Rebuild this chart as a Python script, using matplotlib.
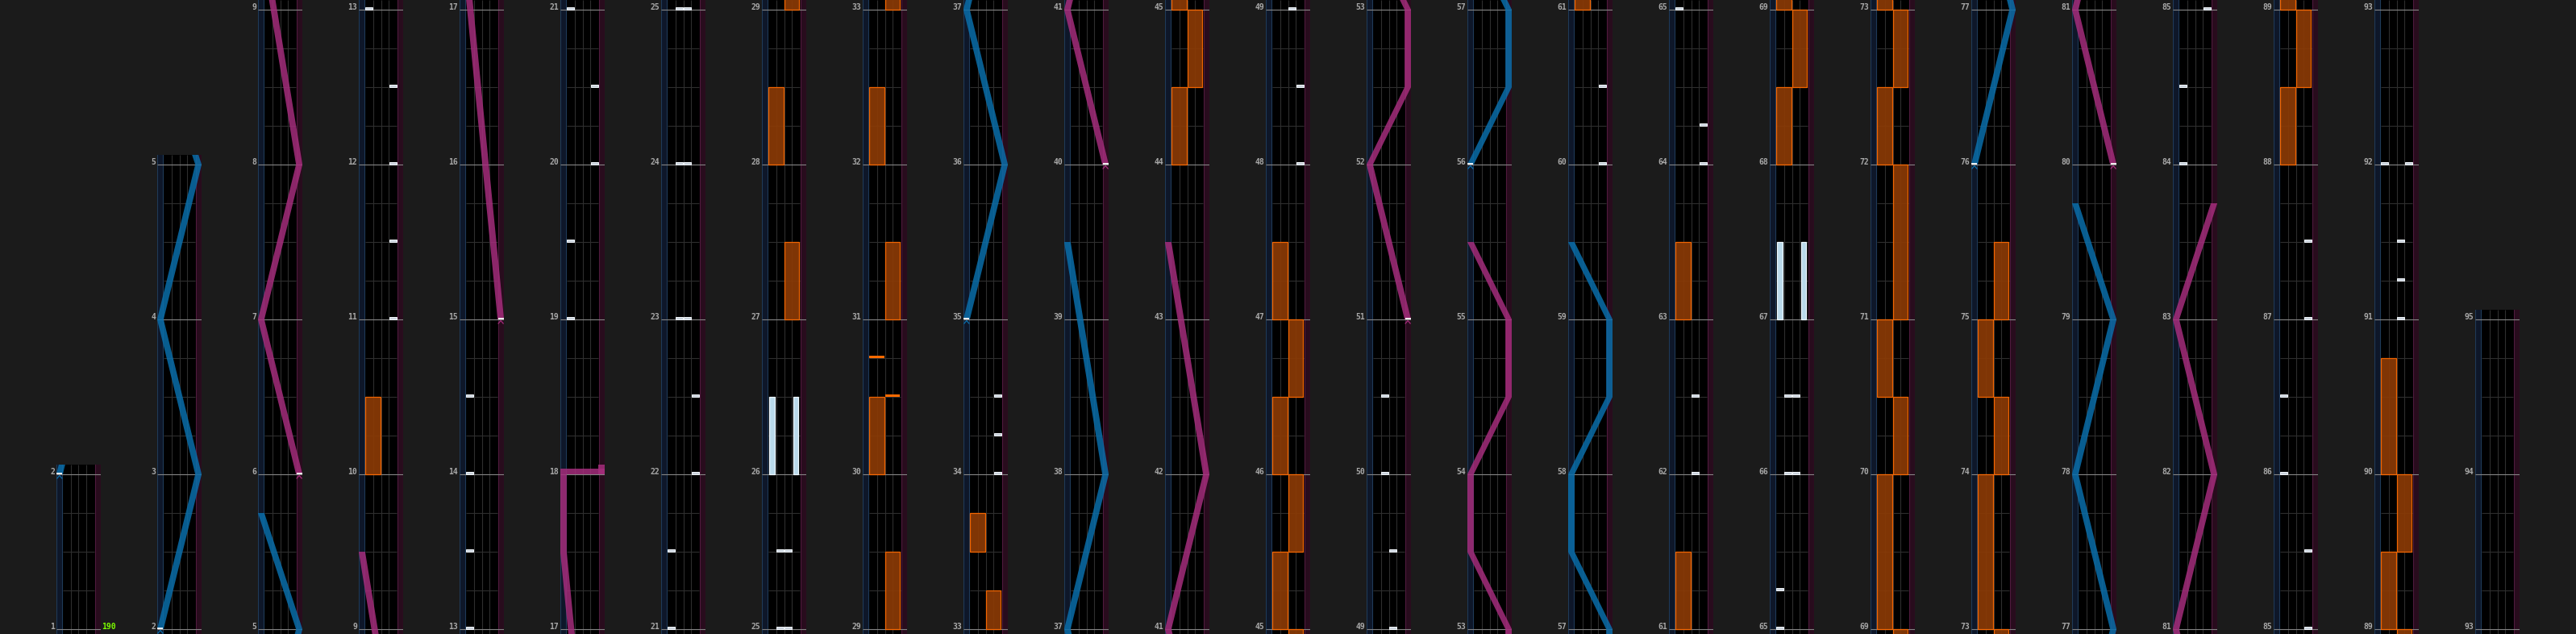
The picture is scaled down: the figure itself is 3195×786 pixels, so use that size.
#!/usr/bin/env python3
"""
Chart strip of a 4-lane + 2-laser rhythm chart (95 measures, 25 columns).
192 px per measure, columns bottom-aligned.
Out : out.png (3195 x 786)
"""
import matplotlib
matplotlib.use("Agg")
import matplotlib.pyplot as plt
from matplotlib.patches import Rectangle, Polygon

# ---------------- chart data ----------------
# columns: first and last measure shown
COL_FIRST = [1, 2, 5, 9, 13, 17, 21, 25, 29, 33, 37, 41, 45,
             49, 53, 57, 61, 65, 69, 73, 77, 81, 85, 89, 93]
COL_LAST = [2, 5, 9, 13, 17, 21, 25, 29, 33, 37, 41, 45, 49,
            53, 57, 61, 65, 69, 73, 77, 81, 85, 89, 93, 95]
BPM = "190"

# (measure, lane 1-4)
BT_CHIPS = [
    (11, 4), (11.5, 4), (12, 4), (12.5, 4), (13, 1),
    (13.5, 1), (14, 1), (14.5, 1),
    (19, 1), (19.5, 1), (20, 4), (20.5, 4), (21, 1),
    (21.5, 1), (22, 4), (22.5, 4), (23, 2), (23, 3), (24, 2), (24, 3),
    (25, 2), (25, 3), (25.5, 2), (25.5, 3),
    (34, 4), (34.25, 4), (34.5, 4),
    (48, 4), (48.5, 4), (49, 3), (49.5, 3), (50, 2), (50.5, 2),
    (60, 4), (60.5, 4),
    (62, 3), (62.5, 3), (64, 4), (64.25, 4), (65, 1),
    (65.25, 1), (66, 2), (66, 3), (66.5, 2), (66.5, 3),
    (84, 1), (84.5, 1), (85, 4), (85.5, 4), (86, 1), (86.5, 1),
    (87, 4), (87.5, 4),
    (91, 3), (91.25, 3), (91.5, 3), (92, 1), (92, 4),
]
# (start, end, lane)
BT_HOLDS = [(26, 26.5, 1), (26, 26.5, 4), (67, 67.5, 1), (67, 67.5, 4)]

# (start, end, side)
FX_HOLDS = [
    (10, 10.5, "L"),
    (27, 27.5, "R"), (28, 28.5, "L"), (29, 29.5, "R"), (30, 30.5, "L"),
    (31, 31.5, "R"), (32, 32.5, "L"), (33, 33.25, "R"), (33.5, 33.75, "L"),
    (44, 44.5, "L"), (44.5, 45, "R"), (45, 45.5, "L"), (45.5, 46, "R"),
    (46, 46.5, "L"), (46.5, 47, "R"), (47, 47.5, "L"),
    (61, 61.5, "L"), (63, 63.5, "L"),
    (68, 68.5, "L"), (68.5, 69, "R"), (69, 70, "L"), (70, 70.5, "R"),
    (70.5, 71, "L"), (71, 72, "R"), (72, 72.5, "L"), (72.5, 73, "R"),
    (73, 74, "L"), (74, 74.5, "R"), (74.5, 75, "L"), (75, 75.5, "R"),
    (88, 88.5, "L"), (88.5, 89, "R"), (89, 89.5, "L"), (89.5, 90, "R"),
    (90, 90.75, "L"),
]
FX_CHIPS = [(30.5, "R"), (30.75, "L")]

# lasers: (measure, position 0..1); equal measures = slam
LASER_L = [
    [(2, 0), (3, 1), (4, 0), (5, 1), (5.75, 0)],
    [(35, 0), (36, 1), (37, 0), (38, 1), (39.5, 0)],
    [(56, 0), (56.5, 1), (57, 1), (57.5, 0), (58, 0), (58.5, 1),
     (59, 1), (59.5, 0)],
    [(76, 0), (77, 1), (78, 0), (79, 1), (79.75, 0)],
]
LASER_R = [
    [(6, 1), (7, 0), (8, 1), (9.5, 0)],
    [(15, 1), (17.5, 0), (18, 0), (18, 1), (18.0625, 1)],
    [(40, 1), (41, 0), (42, 1), (43.5, 0)],
    [(51, 1), (52, 0), (52.5, 1), (53, 1), (53.5, 0), (54, 0),
     (54.5, 1), (55, 1), (55.5, 0)],
    [(80, 1), (81, 0), (82, 1), (83, 0), (83.75, 1)],
]

# ---------------- layout / style ----------------
W_PX, H_PX = 3195, 786
PPM = 192.0                 # px per measure
COL_X0, COL_STEP, COL_W = 70, 125, 55
STRIP, LANE = 7.75, 9.875
PAD_LO, PAD_HI = 6 / PPM, 12 / PPM
HW = 4.0                    # laser half width (px)

BG = "#1b1b1b"
BLUE, PINK = "#0a6eaa", "#a52d7c"
FX_FACE, FX_EDGE = "#8a3a06", "#ff6a00"
LABEL = "#a8a8a8"
FONT = dict(family="DejaVu Sans Mono", weight="bold", size=7)


def laser_x(p):
    return STRIP / 2 + p * (COL_W - STRIP)


def draw_laser(ax, pts, color):
    runs, slams, cur = [], [], [pts[0]]
    for t, p in pts[1:]:
        if t == cur[-1][0]:
            runs.append(cur)
            slams.append((t, cur[-1][1], p))
            cur = [(t, p)]
        else:
            cur.append((t, p))
    runs.append(cur)
    for run in runs:
        if len(run) < 2:
            continue
        left = [(laser_x(p) - HW, t) for t, p in run]
        right = [(laser_x(p) + HW, t) for t, p in run][::-1]
        ax.add_patch(Polygon(left + right, closed=True, facecolor=color,
                             edgecolor="none", alpha=0.85, zorder=6))
    for t, p0, p1 in slams:
        x0, x1 = sorted((laser_x(p0), laser_x(p1)))
        ax.add_patch(Rectangle((x0 - HW, t), x1 - x0 + 2 * HW, 6.5 / PPM,
                               facecolor=color, edgecolor="none",
                               alpha=0.85, zorder=6))
    # start marker
    t0, p0 = pts[0]
    x = laser_x(p0)
    ax.plot([x - HW + 0.5, x + HW - 0.5], [t0 + 1 / PPM] * 2,
            color="white", lw=1.3, solid_capstyle="butt", zorder=8)
    ax.plot([x - 3, x, x + 3], [t0 - 5 / PPM, t0 - 1.5 / PPM, t0 - 5 / PPM],
            color=color, lw=0.9, zorder=8)


fig = plt.figure(figsize=(W_PX / 100, H_PX / 100), dpi=100, facecolor=BG)

for i, (first, last) in enumerate(zip(COL_FIRST, COL_LAST)):
    ylo, yhi = first - PAD_LO, last + PAD_HI
    h = (yhi - ylo) * PPM
    ax = fig.add_axes([(COL_X0 + i * COL_STEP) / W_PX, 0, COL_W / W_PX, h / H_PX])
    ax.set_xlim(0, COL_W)
    ax.set_ylim(ylo, yhi)
    ax.axis("off")

    ax.add_patch(Rectangle((0, ylo), COL_W, yhi - ylo, color="black", zorder=0))
    ax.add_patch(Rectangle((0.4, ylo - 1), STRIP - 0.8, yhi - ylo + 2,
                           facecolor="#0e1729", edgecolor="#1f3a58", lw=0.8, zorder=1))
    ax.add_patch(Rectangle((COL_W - STRIP + 0.4, ylo - 1), STRIP - 0.8, yhi - ylo + 2,
                           facecolor="#280c1d", edgecolor="#4f1a3d", lw=0.8, zorder=1))
    ax.vlines([STRIP + LANE * k for k in range(1, 4)], ylo, yhi,
              color="#2e2e2e", lw=0.8, zorder=1)
    beats = [m + q for m in range(first, last) for q in (0.25, 0.5, 0.75)]
    ax.hlines(beats, STRIP, COL_W - STRIP, color="#2e2e2e", lw=0.8, zorder=1)
    measures = list(range(first, last + 1))
    ax.hlines(measures, 0, COL_W, color="#858585", lw=0.8, zorder=2)
    for m in measures:
        ax.text(-2, m, str(m), ha="right", va="baseline", color=LABEL,
                fontdict=FONT, clip_on=False)

    # FX holds / chips
    for t0, t1, side in FX_HOLDS:
        if t1 < ylo or t0 > yhi:
            continue
        x = STRIP + 0.6 if side == "L" else STRIP + 2 * LANE + 0.6
        ax.add_patch(Rectangle((x, t0), 2 * LANE - 1.4, t1 - t0, facecolor=FX_FACE,
                               edgecolor=FX_EDGE, lw=0.9, alpha=0.93, zorder=3))
    for t, side in FX_CHIPS:
        x = STRIP + 0.6 if side == "L" else STRIP + 2 * LANE + 0.6
        ax.add_patch(Rectangle((x, t), 2 * LANE - 1.4, 3 / PPM,
                               facecolor=FX_EDGE, edgecolor="none", zorder=5))
    # BT holds / chips
    for t0, t1, lane in BT_HOLDS:
        x = STRIP + LANE * (lane - 1) + 1.3
        ax.add_patch(Rectangle((x, t0), 6.7, t1 - t0, facecolor="#b9d9ea",
                               edgecolor="#eef8ff", lw=0.9, zorder=4))
    for t, lane in BT_CHIPS:
        x = STRIP + LANE * (lane - 1) + 0.6
        ax.add_patch(Rectangle((x, t), 8.7, 3.3 / PPM, facecolor="#c9d2dc",
                               edgecolor="#f4f8fc", lw=0.7, zorder=5))

    for pts in LASER_L:
        draw_laser(ax, pts, BLUE)
    for pts in LASER_R:
        draw_laser(ax, pts, PINK)

    if i == 0:
        ax.text(COL_W + 1, first, BPM, ha="left", va="baseline",
                color="#7cfc00", fontdict=FONT, clip_on=False)

fig.savefig("out.png", dpi=100, facecolor=BG)
plt.close(fig)
print("wrote out.png")
